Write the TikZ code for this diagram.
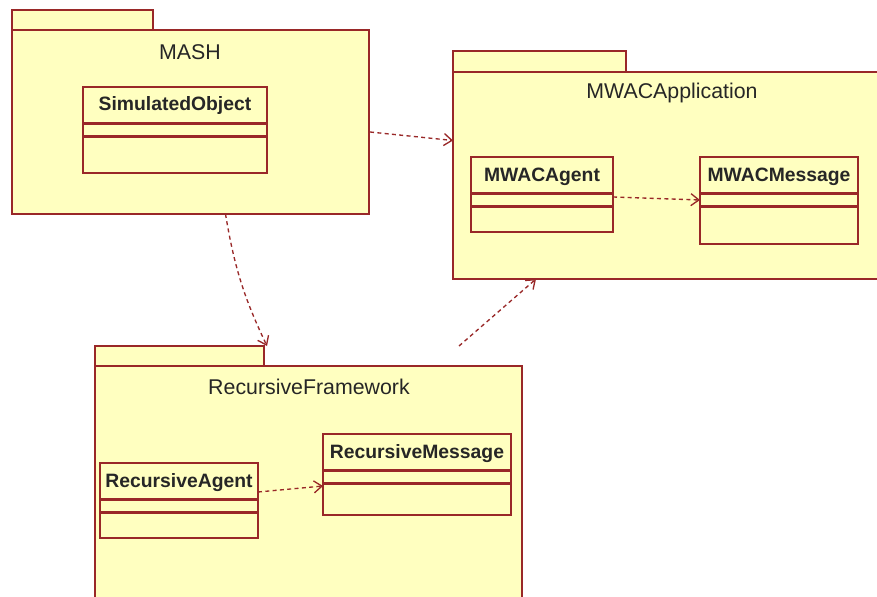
\documentclass[tikz,border=0pt]{standalone}
\usepackage{fontspec}
\setmainfont{Liberation Sans}
\usetikzlibrary{positioning,arrows.meta,calc}
\definecolor{umlline}{HTML}{992828}
\definecolor{umlfill}{HTML}{FFFFC0}

\begin{document}
\begin{tikzpicture}[x=0.75pt,y=-0.75pt,
      pkg/.style={draw=umlline,fill=umlfill,line width=1.1pt,inner sep=0pt,outer sep=0pt},
      cls/.style={draw=umlline,fill=umlfill,line width=1.1pt,inner sep=0pt,outer sep=0pt},
      pkgname/.style={font=\fontsize{16}{18}\selectfont,text=black!85},
      clsname/.style={font=\fontsize{14.5}{17}\selectfont\bfseries,text=black!85},
      divider/.style={draw=umlline,line width=1.6pt},
      dep/.style={draw=umlline,line width=1pt,dash pattern=on 3pt off 2.5pt,
                  -{Straight Barb[length=6pt,width=9pt,line width=1pt]}}]

    \useasboundingbox[fill=white] (0,0) rectangle (877,596);
    \clip (0,0) rectangle (877,596);

    % packages
    \node[pkg,minimum width=141*0.75pt,minimum height=20*0.75pt] (mashtab)  at (82.5,20)   {};
    \node[pkg,minimum width=357*0.75pt,minimum height=184*0.75pt] (mash)    at (190.5,122) {};
    \node[pkgname] (mashlbl) at (190,52) {MASH};

    \node[pkg,minimum width=173*0.75pt,minimum height=21*0.75pt] (mwactab)  at (539.5,61.5) {};
    \node[pkg,minimum width=432*0.75pt,minimum height=207*0.75pt] (mwac)    at (669,175.5)  {};
    \node[pkgname] (mwaclbl) at (672,93) {MWACApplication};

    \node[pkg,minimum width=169*0.75pt,minimum height=20*0.75pt] (rectab)   at (179.5,356) {};
    \node[pkg,minimum width=427*0.75pt,minimum height=244*0.75pt] (rec)     at (308.5,488) {};
    \node[pkgname] (reclbl) at (309,387) {RecursiveFramework};

    % classes
    \node[cls,minimum width=184*0.75pt,minimum height=86*0.75pt] (simobj)    at (175,130)   {};
    \node[clsname] at (175,105.5) {SimulatedObject};
    \node[cls,minimum width=142*0.75pt,minimum height=75*0.75pt] (mwacagent) at (542,194.5) {};
    \node[clsname] at (542,176.5) {MWACAgent};
    \node[cls,minimum width=158*0.75pt,minimum height=87*0.75pt] (mwacmsg)   at (779,200.5) {};
    \node[clsname] at (779,176.5) {MWACMessage};
    \node[cls,minimum width=158*0.75pt,minimum height=75*0.75pt] (recagent)  at (179,500.5) {};
    \node[clsname] at (179,482.5) {RecursiveAgent};
    \node[cls,minimum width=188*0.75pt,minimum height=81*0.75pt] (recmsg)    at (417,474.5) {};
    \node[clsname] at (417,453.5) {RecursiveMessage};

    \foreach \c in {simobj,mwacagent,mwacmsg,recagent,recmsg} {
      \draw[divider] ($(\c.north west)+(0,36.5)$) -- ($(\c.north east)+(0,36.5)$);
      \draw[divider] ($(\c.north west)+(0,49.5)$) -- ($(\c.north east)+(0,49.5)$);
    }

    % dependencies
    \coordinate (recout) at ($(rec.north east)+(-63,-20)$);
    \draw[dep] ($(mash.east)+(1,10)$) -- ($(mwac.west)+(0,-35)$);
    \draw[dep] ($(mash.south)+(35,0)$) to[bend right=8] ($(rectab.north east)+(3,0)$);
    \draw[dep] (recout) -- ($(mwac.south)+(-133,0)$);
    \draw[dep] ($(mwacagent.east)+(0,2.5)$) -- ($(mwacmsg.west)+(0,-0.5)$);
    \draw[dep] ($(recagent.east)+(0,-8.5)$) -- ($(recmsg.west)+(0,11.5)$);
  \end{tikzpicture}
\end{document}
